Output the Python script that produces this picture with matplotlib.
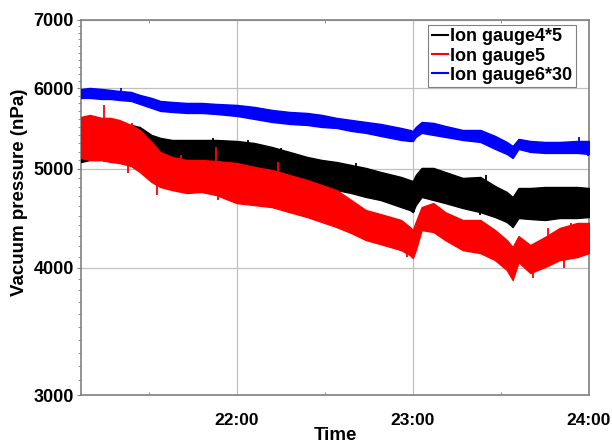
import matplotlib
matplotlib.use("Agg")
import matplotlib.pyplot as plt
from matplotlib.ticker import FixedLocator, NullFormatter

# time in minutes after 21:00
t = [7, 10, 14, 17, 20, 24, 27, 31, 34, 38,
     43, 48, 53, 60, 66, 72, 78, 84, 89, 94,
     99, 104, 109, 116, 119, 120, 121, 123, 127, 131,
     137, 143, 148, 152, 154, 156, 160, 165, 170, 176,
     180]

# Ion gauge6*30 (upper / lower edge of the noisy band, nPa)
blue_hi = [5990, 6004, 5990, 5977, 5963, 5950, 5910, 5870, 5830, 5817,
           5804, 5804, 5791, 5778, 5752, 5713, 5687, 5674, 5649, 5611,
           5585, 5560, 5535, 5485, 5460, 5448, 5497, 5560, 5548, 5510,
           5460, 5460, 5387, 5314, 5266, 5351, 5326, 5314, 5314, 5326,
           5326]
blue_lo = [5870, 5870, 5856, 5856, 5843, 5830, 5791, 5739, 5700, 5687,
           5674, 5674, 5661, 5636, 5598, 5560, 5535, 5522, 5497, 5485,
           5448, 5424, 5387, 5338, 5326, 5326, 5375, 5424, 5399, 5375,
           5338, 5314, 5231, 5172, 5125, 5231, 5196, 5184, 5184, 5184,
           5172]

# Ion gauge4*5
black_hi = [5460, 5460, 5485, 5497, 5522, 5522, 5497, 5399, 5363, 5338,
            5338, 5338, 5338, 5326, 5302, 5254, 5196, 5137, 5102, 5079,
            5045, 5011, 4966, 4910, 4876, 4865, 4932, 5011, 5011, 4966,
            4899, 4910, 4811, 4746, 4693, 4789, 4789, 4800, 4800, 4800,
            4789]
black_lo = [5079, 5102, 5102, 5125, 5125, 5137, 5102, 5045, 5022, 5022,
            5022, 5011, 4988, 4954, 4932, 4910, 4876, 4844, 4800, 4767,
            4735, 4693, 4661, 4587, 4556, 4535, 4608, 4693, 4661, 4629,
            4577, 4535, 4485, 4435, 4385, 4475, 4465, 4455, 4475, 4475,
            4485]

# Ion gauge5
red_hi = [5623, 5649, 5611, 5611, 5585, 5522, 5460, 5314, 5196, 5137,
          5102, 5102, 5090, 5068, 5022, 4988, 4932, 4876, 4822, 4767,
          4661, 4556, 4515, 4455, 4385, 4355, 4435, 4587, 4629, 4535,
          4455, 4455, 4355, 4258, 4191, 4296, 4210, 4287, 4375, 4425,
          4425]
red_lo = [5125, 5102, 5102, 5079, 5068, 5034, 4966, 4855, 4800, 4767,
          4735, 4746, 4714, 4629, 4608, 4587, 4535, 4485, 4435, 4385,
          4326, 4258, 4219, 4162, 4116, 4088, 4162, 4355, 4336, 4258,
          4162, 4134, 4069, 3979, 3890, 4051, 3952, 4006, 4069, 4097,
          4134]

# individual spikes: time, value inside band, spike tip
red_spike_t = [15, 20.5, 24.5, 41, 53, 74, 81, 89, 144, 166, 174, 178,
               15, 23, 33, 53.5, 118, 161, 171.5]
red_spike_a = [5300, 5300, 5250, 4900, 4900, 4800, 4700, 4600, 4300, 4150, 4250, 4250,
               5300, 5250, 4950, 4900, 4250, 4100, 4200]
red_spike_b = [5778, 5560, 5548, 5160, 5254, 5079, 4899, 4822, 4435, 4375, 4425, 4375,
               5079, 4954, 4714, 4661, 4097, 3910, 3997]
black_spike_t = [52, 64, 75, 100.6, 125, 145, 170.5, 120.3, 143, 154, 116]
black_spike_a = [5150, 5100, 5050, 4900, 4850, 4700, 4650, 4700, 4700, 4550, 4750]
black_spike_b = [5363, 5338, 5242, 5068, 5011, 4932, 4800, 4535, 4505, 4385, 4587]
blue_spike_t = [20.5, 154, 179.6, 176.6]
blue_spike_a = [5900, 5200, 5250, 5250]
blue_spike_b = [6004, 5125, 5149, 5375]

series_labels = ["Ion gauge4*5", "Ion gauge5", "Ion gauge6*30"]
series_colors = ["#000000", "#ff0000", "#0000ff"]

yticks = [3000, 4000, 5000, 6000, 7000]
xticks = [60, 120, 180]
xticklabels = ["22:00", "23:00", "24:00"]
xminor = [30, 90, 150]

plt.rcParams['font.family'] = ['Liberation Sans', 'DejaVu Sans']
plt.rcParams['font.weight'] = 'bold'

fig = plt.figure(figsize=(6.12, 4.43), dpi=100)
ax = fig.add_axes([81/612, 48/443, 508/612, 375/443])

bands = [(black_lo, black_hi, black_spike_t, black_spike_a, black_spike_b),
         (red_lo, red_hi, red_spike_t, red_spike_a, red_spike_b),
         (blue_lo, blue_hi, blue_spike_t, blue_spike_a, blue_spike_b)]
for (lo, hi, st, sa, sb), c, lab in zip(bands, series_colors, series_labels):
    ax.fill_between(t, lo, hi, color=c, lw=1.0, edgecolor=c, zorder=3)
    ax.vlines(st, sa, sb, color=c, lw=1.3, zorder=3)
    ax.plot([], [], color=c, lw=1.5, label=lab)

ax.set_yscale('log')
ax.set_ylim(3000, 7000)
ax.set_xlim(7, 180)
ax.yaxis.set_major_locator(FixedLocator(yticks))
ax.yaxis.set_minor_locator(FixedLocator(list(range(3100, 7000, 100))))
ax.yaxis.set_minor_formatter(NullFormatter())
ax.set_yticklabels([str(v) for v in yticks])
ax.set_xticks(xticks)
ax.set_xticklabels(xticklabels)
ax.xaxis.set_minor_locator(FixedLocator(xminor))

ax.grid(True, which='major', color='#c0c0c0', lw=0.9, zorder=0)
ax.set_axisbelow(True)
for s in ax.spines.values():
    s.set_color('#808080')
    s.set_linewidth(1.2)

ax.tick_params(axis='y', which='major', length=3, width=0.8, color='#808080',
               labelsize=13, pad=2)
ax.tick_params(axis='y', which='minor', length=2, width=0.6, color='#808080')
ax.tick_params(axis='x', which='major', length=0, labelsize=12.5, pad=13)
ax.tick_params(axis='x', which='minor', length=2, width=0.6, color='#808080',
               direction='in', top=True)
for lab in ax.get_xticklabels() + ax.get_yticklabels():
    lab.set_fontweight('bold')

ax.set_ylabel("Vacuum pressure (nPa)", fontsize=13.5, fontweight='bold')
ax.yaxis.set_label_coords(-0.104, 0.54)
ax.set_xlabel("Time", fontsize=13.5, fontweight='bold')
ax.xaxis.set_label_coords(0.5, -0.085)

leg = ax.legend(loc='upper right', bbox_to_anchor=(0.974, 0.987), borderaxespad=0,
                fancybox=False, framealpha=1, edgecolor='#808080',
                prop={'size': 13, 'weight': 'bold'}, handlelength=0.9,
                handletextpad=0.1, labelspacing=0.12, borderpad=0.2)
leg.get_frame().set_linewidth(0.8)
leg.set_zorder(5)

fig.savefig("out.png", dpi=100)
